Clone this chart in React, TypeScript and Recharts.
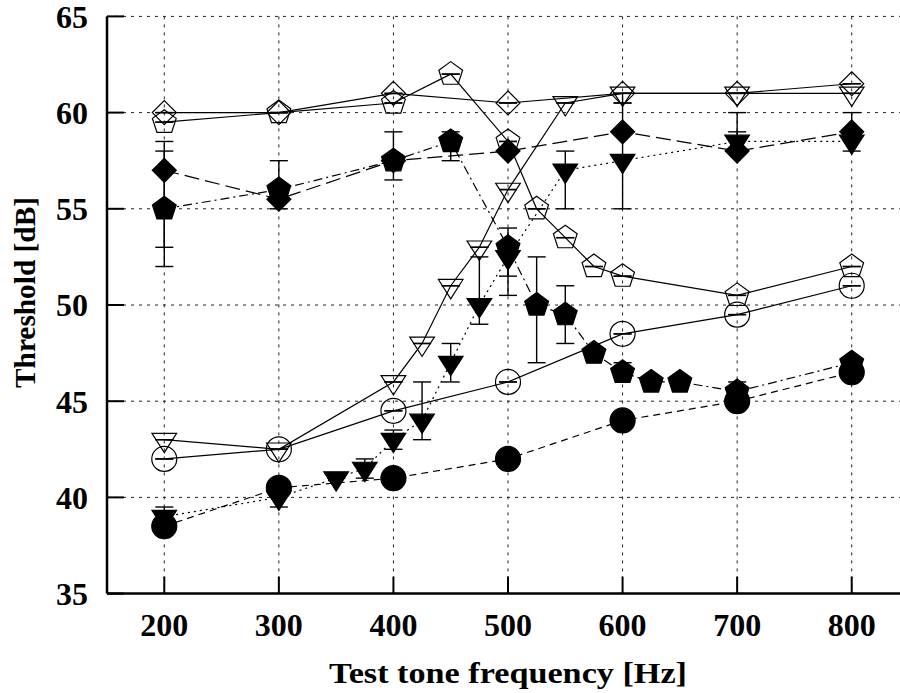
import React from 'react';
import { ScatterChart, Scatter, XAxis, YAxis, CartesianGrid, ErrorBar } from 'recharts';

const xTicks = [200, 300, 400, 500, 600, 700, 800];
const yTicks = [35, 40, 45, 50, 55, 60, 65];

// open symbols, solid lines
const openPentagonHz = [200, 300, 400, 450, 500, 525, 550, 575, 600, 700, 800];
const openPentagonDb = [59.5, 60, 60.5, 62, 58.5, 55, 53.5, 52, 51.5, 50.5, 52];

const openDiamondHz = [200, 300, 400, 500, 600, 700, 800];
const openDiamondDb = [60, 60, 61, 60.5, 61, 61, 61.5];

const openCircleHz = [200, 300, 400, 500, 600, 700, 800];
const openCircleDb = [42, 42.5, 44.5, 46, 48.5, 49.5, 51];

const openTriangleHz = [200, 300, 400, 425, 450, 475, 500, 550, 600, 700, 800];
const openTriangleDb = [43, 42.5, 46, 48, 51, 53, 56, 60.5, 61, 61, 61];
const openTriangleLow = [null, null, null, null, null, null, null, null, 60.5, null, null];

// filled symbols, broken lines
const filledDiamondHz = [200, 300, 400, 500, 600, 700, 800];
const filledDiamondDb = [57, 55.5, 57.5, 58, 59, 58, 59];
const filledDiamondLow = [53, null, null, null, null, null, null];
const filledDiamondHigh = [58, null, null, null, null, 59, null];

const filledPentagonHz = [200, 300, 400, 450, 500, 525, 550, 575, 600, 625, 650, 700, 800];
const filledPentagonDb = [55, 56, 57.5, 58.5, 53, 50, 49.5, 47.5, 46.5, 46, 46, 45.5, 47];
const filledPentagonLow = [52, 55, 56.5, 57.5, 51.5, 47, 48, null, null, null, null, null, null];
const filledPentagonHigh = [58.5, 57.5, 59, 59, 54, 52.5, 51, null, 47, null, null, 46, null];

const filledTriangleHz = [200, 300, 350, 375, 400, 425, 450, 475, 500, 550, 600, 700, 800];
const filledTriangleDb = [39, 40, 41, 41.5, 43, 44, 47, 50, 52.5, 57, 57.5, 58.5, 58.5];
const filledTriangleLow = [38.5, 39.5, null, 41, 42.5, 43, 46, 49, 50.5, 55, 55, 58, 58];
const filledTriangleHigh = [39.5, 40.5, null, 42, 43.5, 46, 48, 52.5, 53, 58, 60.5, 60, 60];

const filledCircleHz = [200, 300, 400, 500, 600, 700, 800];
const filledCircleDb = [38.5, 40.5, 41, 42, 44, 45, 46.5];

type Bound = number | null;

const build = (hz: number[], db: number[], low?: Bound[], high?: Bound[]) =>
  hz.map((x, i) => {
    const lo = low && low[i] != null ? db[i] - (low[i] as number) : 0;
    const hi = high && high[i] != null ? (high[i] as number) - db[i] : 0;
    return { x, y: db[i], err: [lo, hi] };
  });

const ink = '#000';
const font = '"Liberation Serif", "Times New Roman", serif';

const pentagon = (cx: number, cy: number, r: number) =>
  [0, 1, 2, 3, 4]
    .map((k) => {
      const a = -Math.PI / 2 + (k * 2 * Math.PI) / 5;
      return `${cx + r * Math.cos(a)},${cy + r * Math.sin(a)}`;
    })
    .join(' ');

const makeShape = (kind: string, filled: boolean) => (props: any) => {
  const { cx, cy } = props;
  if (cx == null || cy == null) return <g />;
  const common = { fill: filled ? ink : 'none', stroke: ink, strokeWidth: 1.2 };
  if (kind === 'circle') return <circle cx={cx} cy={cy} r={12.5} {...common} />;
  if (kind === 'diamond')
    return <polygon points={`${cx},${cy - 12} ${cx + 12},${cy} ${cx},${cy + 12} ${cx - 12},${cy}`} {...common} />;
  if (kind === 'triangle')
    return <polygon points={`${cx - 12.3},${cy - 6.3} ${cx + 12.3},${cy - 6.3} ${cx},${cy + 13}`} {...common} />;
  return <polygon points={pentagon(cx, cy, 12.5)} {...common} />;
};

const series = [
  { name: 'openPentagon', data: build(openPentagonHz, openPentagonDb), kind: 'pentagon', filled: false, dash: undefined },
  { name: 'openDiamond', data: build(openDiamondHz, openDiamondDb), kind: 'diamond', filled: false, dash: undefined },
  { name: 'openCircle', data: build(openCircleHz, openCircleDb), kind: 'circle', filled: false, dash: undefined },
  { name: 'openTriangle', data: build(openTriangleHz, openTriangleDb, openTriangleLow), kind: 'triangle', filled: false, dash: undefined },
  { name: 'filledDiamond', data: build(filledDiamondHz, filledDiamondDb, filledDiamondLow, filledDiamondHigh), kind: 'diamond', filled: true, dash: '15 6' },
  { name: 'filledPentagon', data: build(filledPentagonHz, filledPentagonDb, filledPentagonLow, filledPentagonHigh), kind: 'pentagon', filled: true, dash: '9 4 2 4' },
  { name: 'filledTriangle', data: build(filledTriangleHz, filledTriangleDb, filledTriangleLow, filledTriangleHigh), kind: 'triangle', filled: true, dash: '2 4' },
  { name: 'filledCircle', data: build(filledCircleHz, filledCircleDb), kind: 'circle', filled: true, dash: '7 5' },
];

const XTitle = (props: any) => {
  const vb = props.viewBox || { x: 107, y: 593.6, width: 802, height: 99.4 };
  return (
    <text
      x={508}
      y={vb.y + vb.height - 10}
      textAnchor="middle"
      textLength={358}
      lengthAdjust="spacingAndGlyphs"
      fontFamily={font}
      fontWeight="bold"
      fontSize={30}
      fill={ink}
    >
      Test tone frequency [Hz]
    </text>
  );
};

const YTitle = () => (
  <text
    x={35}
    y={292.5}
    transform="rotate(-90 35 292.5)"
    textAnchor="middle"
    textLength={191}
    lengthAdjust="spacingAndGlyphs"
    fontFamily={font}
    fontWeight="bold"
    fontSize={30}
    fill={ink}
  >
    Threshold [dB]
  </text>
);

const tickStyle = { fill: ink, fontSize: 32, fontFamily: font, fontWeight: 'bold' };

export default function App() {
  return (
    <div style={{ position: 'fixed', left: 0, top: 0, width: 900, height: 693, overflow: 'hidden', background: '#fff' }}>
      <ScatterChart width={912} height={693} margin={{ top: 16.4, right: 3, bottom: 0, left: 0 }}>
        <CartesianGrid stroke="#222" strokeWidth={1} strokeDasharray="3 5" />
        <XAxis
          type="number"
          dataKey="x"
          domain={[150, 850]}
          ticks={xTicks}
          interval={0}
          height={99.4}
          tickSize={-17}
          tickMargin={37}
          axisLine={{ stroke: ink, strokeWidth: 2.5 }}
          tickLine={{ stroke: ink, strokeWidth: 2 }}
          tick={tickStyle}
          label={<XTitle />}
        />
        <XAxis
          xAxisId="top"
          orientation="top"
          type="number"
          domain={[150, 850]}
          ticks={xTicks}
          interval={0}
          height={0}
          tickSize={-17}
          tick={false}
          axisLine={{ stroke: ink, strokeWidth: 2.5 }}
          tickLine={{ stroke: ink, strokeWidth: 2 }}
        />
        <YAxis
          type="number"
          dataKey="y"
          domain={[35, 65]}
          ticks={yTicks}
          interval={0}
          width={107}
          tickSize={-17}
          tickMargin={36}
          axisLine={{ stroke: ink, strokeWidth: 2.5 }}
          tickLine={{ stroke: ink, strokeWidth: 2 }}
          tick={tickStyle}
          label={<YTitle />}
        />
        <YAxis
          yAxisId="right"
          orientation="right"
          type="number"
          domain={[35, 65]}
          ticks={yTicks}
          interval={0}
          width={0}
          tickSize={-17}
          tick={false}
          axisLine={{ stroke: ink, strokeWidth: 2.5 }}
          tickLine={{ stroke: ink, strokeWidth: 2 }}
        />
        {series.map((s) => (
          <Scatter
            key={s.name}
            name={s.name}
            data={s.data}
            isAnimationActive={false}
            fill={ink}
            line={{ stroke: ink, strokeWidth: 1.2, strokeDasharray: s.dash }}
            lineType="joint"
            shape={makeShape(s.kind, s.filled)}
          >
            <ErrorBar dataKey="err" direction="y" width={9} stroke={ink} strokeWidth={1.4} isAnimationActive={false} />
          </Scatter>
        ))}
      </ScatterChart>
    </div>
  );
}
